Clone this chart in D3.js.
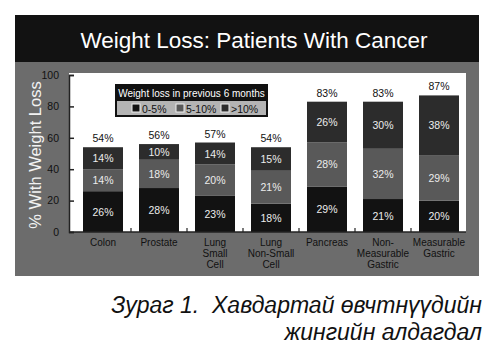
<!DOCTYPE html>
<html>
<head>
<meta charset="utf-8">
<script src="https://cdn.jsdelivr.net/npm/d3@7"></script>
<style>
  body { margin: 0; background: #fff; }
  svg { display: block; font-family: "Liberation Sans", Arial, sans-serif; }
</style>
</head>
<body>
<svg id="chart" width="492" height="348"></svg>
<script>
// Categories (multi-line labels)
const categories = ['Colon', 'Prostate', 'Lung Small Cell', 'Lung Non-Small Cell', 'Pancreas', 'Non-Measurable Gastric', 'Measurable Gastric'];
const categoryLines = [['Colon'], ['Prostate'], ['Lung', 'Small', 'Cell'], ['Lung', 'Non-Small', 'Cell'], ['Pancreas'], ['Non-', 'Measurable', 'Gastric'], ['Measurable', 'Gastric']];
// Series values (%)
const loss0to5 = [26, 28, 23, 18, 29, 21, 20];
const loss5to10 = [14, 18, 20, 21, 28, 32, 29];
const lossOver10 = [14, 10, 14, 15, 26, 30, 38];
const totals = [54, 56, 57, 54, 83, 83, 87];
const seriesNames = ['0-5%', '5-10%', '>10%'];
const yTicks = [0, 20, 40, 60, 80, 100];

const svg = d3.select('#chart');

// Frame: title band + grey panel
svg.append('rect').attr('x', 15).attr('y', 15).attr('width', 464).attr('height', 261).attr('fill', '#6c6c6c');
svg.append('rect').attr('x', 15).attr('y', 15).attr('width', 464).attr('height', 47).attr('fill', '#121212');
svg.append('text')
  .attr('x', 254).attr('y', 48)
  .attr('text-anchor', 'middle')
  .attr('fill', '#fff')
  .attr('font-size', 22.5)
  .text('Weight Loss: Patients With Cancer');

// Plot area
const plot = { left: 69, right: 466, top: 73, bottom: 232 };
svg.append('rect')
  .attr('x', plot.left).attr('y', plot.top)
  .attr('width', plot.right - plot.left).attr('height', plot.bottom - plot.top)
  .attr('fill', '#fff');

const x = d3.scaleBand().domain(categories).range([75, 467]).paddingInner(0.286).paddingOuter(0.143);
const y = d3.scaleLinear().domain([0, 100]).range([plot.bottom, 75]);

// Stacked data
const table = categories.map(function(c, i) {
  return { cat: c, '0-5%': loss0to5[i], '5-10%': loss5to10[i], '>10%': lossOver10[i] };
});
const stack = d3.stack().keys(seriesNames)(table);
const color = d3.scaleOrdinal().domain(seriesNames).range(['#121212', '#595959', '#2c2c2c']);

const layers = svg.append('g').selectAll('g').data(stack).join('g').attr('fill', function(d) { return color(d.key); });
layers.selectAll('rect').data(function(d) { return d; }).join('rect')
  .attr('x', function(d) { return x(d.data.cat); })
  .attr('y', function(d) { return y(d[1]); })
  .attr('width', x.bandwidth())
  .attr('height', function(d) { return y(d[0]) - y(d[1]); });

// Segment labels
layers.each(function(layer) {
  d3.select(this).selectAll('text').data(layer).join('text')
    .attr('x', function(d) { return x(d.data.cat) + x.bandwidth() / 2; })
    .attr('y', function(d) { return (y(d[0]) + y(d[1])) / 2 + 4; })
    .attr('text-anchor', 'middle')
    .attr('fill', '#ececec')
    .attr('font-size', 10.5)
    .text(function(d) { return d.data[layer.key] + '%'; });
});

// Totals
svg.append('g').selectAll('text').data(categories).join('text')
  .attr('x', function(d) { return x(d) + x.bandwidth() / 2; })
  .attr('y', function(d, i) { return y(totals[i]) - 5; })
  .attr('text-anchor', 'middle')
  .attr('fill', '#111')
  .attr('font-size', 10.5)
  .text(function(d, i) { return totals[i] + '%'; });

// Y axis
const yAxis = svg.append('g')
  .attr('transform', 'translate(' + plot.left + ',0)')
  .call(d3.axisLeft(y).tickValues(yTicks).tickSize(-5).tickPadding(10));
yAxis.select('.domain').attr('stroke', '#222').attr('stroke-width', 1.5);
yAxis.selectAll('.tick line').attr('stroke', '#222').attr('stroke-width', 1.5);
yAxis.selectAll('.tick text').attr('fill', '#111').attr('font-size', 10.5).attr('font-family', 'Liberation Sans, Arial, sans-serif');

// X axis line with ticks between categories
svg.append('line')
  .attr('x1', plot.left).attr('x2', plot.right)
  .attr('y1', plot.bottom).attr('y2', plot.bottom)
  .attr('stroke', '#222').attr('stroke-width', 1.5);
svg.append('g').selectAll('line').data(categories.slice(1)).join('line')
  .attr('x1', function(d) { return x(d) - x.step() * x.paddingInner() / 2; })
  .attr('x2', function(d) { return x(d) - x.step() * x.paddingInner() / 2; })
  .attr('y1', plot.bottom).attr('y2', plot.bottom - 4)
  .attr('stroke', '#222').attr('stroke-width', 1.2);

// Category labels
const catLabels = svg.append('g').selectAll('text').data(categories).join('text')
  .attr('x', function(d) { return x(d) + x.bandwidth() / 2; })
  .attr('y', 246)
  .attr('text-anchor', 'middle')
  .attr('fill', '#111')
  .attr('font-size', 10);
catLabels.each(function(d, i) {
  d3.select(this).selectAll('tspan').data(categoryLines[i]).join('tspan')
    .attr('x', x(d) + x.bandwidth() / 2)
    .attr('dy', function(t, j) { return j === 0 ? 0 : 11; })
    .text(function(t) { return t; });
});

// Y axis title
svg.append('text')
  .attr('transform', 'translate(41,155) rotate(-90)')
  .attr('text-anchor', 'middle')
  .attr('fill', '#f2f2f2')
  .attr('font-size', 16.5)
  .text('% With Weight Loss');

// Legend
const legend = svg.append('g').attr('transform', 'translate(115,84)');
legend.append('rect').attr('width', 153).attr('height', 33).attr('fill', '#111');
legend.append('rect').attr('x', 2).attr('y', 17).attr('width', 149).attr('height', 14).attr('fill', '#b4b4b4');
legend.append('text').attr('x', 76.5).attr('y', 12.5).attr('text-anchor', 'middle')
  .attr('fill', '#fff').attr('font-size', 10).text('Weight loss in previous 6 months');
const legendX = [17, 61, 106];
const items = legend.selectAll('g.item').data(seriesNames).join('g')
  .attr('class', 'item')
  .attr('transform', function(d, i) { return 'translate(' + legendX[i] + ',20)'; });
items.append('rect').attr('width', 8).attr('height', 8)
  .attr('fill', function(d) { return color(d); })
  .attr('stroke', '#eee').attr('stroke-width', 1);
items.append('text').attr('x', 10).attr('y', 8.5)
  .attr('fill', '#111').attr('font-size', 10.5)
  .text(function(d) { return d; });

// Caption
const caption = svg.append('text')
  .attr('text-anchor', 'end')
  .attr('fill', '#111')
  .attr('font-size', 23)
  .attr('font-style', 'italic');
caption.append('tspan').attr('x', 482).attr('y', 313).attr('xml:space', 'preserve').text('Зураг 1.  Хавдартай өвчтнүүдийн');
caption.append('tspan').attr('x', 482).attr('y', 340).text('жингийн алдагдал');
</script>
</body>
</html>
